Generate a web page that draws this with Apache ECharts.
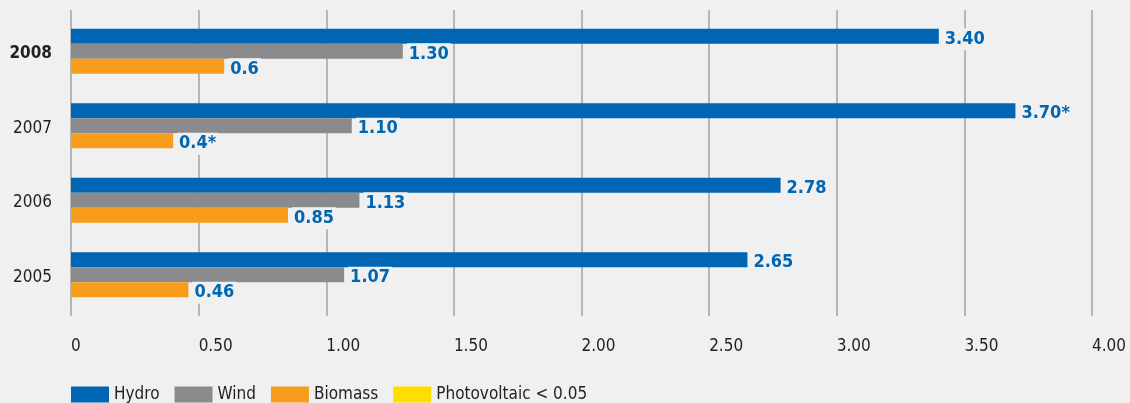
<!DOCTYPE html>
<html>
<head>
<meta charset="utf-8">
<script src="https://cdn.jsdelivr.net/npm/echarts@6/dist/echarts.min.js"></script>
<style>
  html, body { margin: 0; padding: 0; background: #eff0ef; }
  #chart { width: 1130px; height: 403px; }
</style>
</head>
<body>
<div id="chart"></div>
<script>
// ---- data ----
const years = ['2008', '2007', '2006', '2005'];
const hydro = [3.40, 3.70, 2.78, 2.65];
const wind = [1.30, 1.10, 1.13, 1.07];
const biomass = [0.6, 0.4, 0.85, 0.46];
const photovoltaic = [null, null, null, null]; // < 0.05, not visible
const hydroLabels = ['3.40', '3.70*', '2.78', '2.65'];
const windLabels = ['1.30', '1.10', '1.13', '1.07'];
const biomassLabels = ['0.6', '0.4*', '0.85', '0.46'];
const xTickLabels = ['0', '0.50', '1.00', '1.50', '2.00', '2.50', '3.00', '3.50', '4.00'];
const seriesNames = ['Hydro', 'Wind', 'Biomass', 'Photovoltaic < 0.05'];

const BG = '#eff0ef';
const GRID = '#a3a3a3';
const FONT = "'DejaVu Sans Condensed', 'Open Sans', sans-serif";

const chart = echarts.init(document.getElementById('chart'));

function valueLabel(texts) {
  return {
    show: true,
    position: 'right',
    distance: 4,
    offset: [0, 3],
    color: '#0066b3',
    fontFamily: FONT,
    fontWeight: 'bold',
    fontSize: 18,
    textBorderWidth: 0,
    textBorderColor: 'transparent',
    textShadowBlur: 0,
    backgroundColor: BG,
    padding: [2, 2, 2, 2],
    formatter: p => texts[p.dataIndex]
  };
}

chart.setOption({
  backgroundColor: BG,
  animation: false,
  grid: { left: 71, right: 38, top: 14, bottom: 91 },
  legend: {
    left: 66,
    top: 381,
    itemWidth: 38,
    itemHeight: 16,
    itemGap: 15,
    icon: 'rect',
    data: seriesNames,
    textStyle: { fontFamily: FONT, fontSize: 17, color: '#231f20' }
  },
  xAxis: [{
    type: 'value',
    min: 0, max: 4, interval: 0.5,
    axisLine: { show: false },
    axisTick: { show: true, length: 4, lineStyle: { color: GRID, width: 1.5 } },
    splitLine: { show: true, lineStyle: { color: GRID, width: 1.5 } },
    axisLabel: {
      align: 'left',
      margin: 26,
      fontFamily: FONT, fontSize: 17, color: '#231f20',
      formatter: (v) => xTickLabels[Math.round(v / 0.5)]
    }
  }, {
    type: 'value',
    position: 'top',
    min: 0, max: 4, interval: 0.5,
    axisLine: { show: false },
    axisTick: { show: true, length: 4, lineStyle: { color: GRID, width: 1.5 } },
    splitLine: { show: false },
    axisLabel: { show: false }
  }],
  yAxis: [{
    type: 'category',
    inverse: true,
    data: years,
    axisLine: { show: false },
    axisTick: { show: false },
    axisLabel: {
      margin: 19,
      padding: [5, 0, 0, 0],
      fontFamily: FONT, fontSize: 17, color: '#231f20',
      formatter: v => v === '2008' ? '{b|' + v + '}' : v,
      rich: { b: { fontFamily: FONT, fontSize: 17, fontWeight: 'bold', color: '#231f20' } }
    }
  }, {
    type: 'category',
    inverse: true,
    data: years,
    show: false
  }],
  series: [
    { name: seriesNames[0], type: 'bar', data: hydro, barWidth: 15, barGap: '0%',
      itemStyle: { color: '#0066b3' }, label: valueLabel(hydroLabels), z: 3 },
    { name: seriesNames[1], type: 'bar', data: wind, barWidth: 15, barGap: '0%',
      itemStyle: { color: '#8b8b8d' }, label: valueLabel(windLabels), z: 3 },
    { name: seriesNames[2], type: 'bar', data: biomass, barWidth: 15, barGap: '0%',
      itemStyle: { color: '#f89c1c' }, label: valueLabel(biomassLabels), z: 3 },
    { name: seriesNames[3], type: 'bar', data: photovoltaic, yAxisIndex: 1, barWidth: 15,
      itemStyle: { color: '#ffdd00' }, label: { show: false } }
  ]
});
</script>
</body>
</html>
